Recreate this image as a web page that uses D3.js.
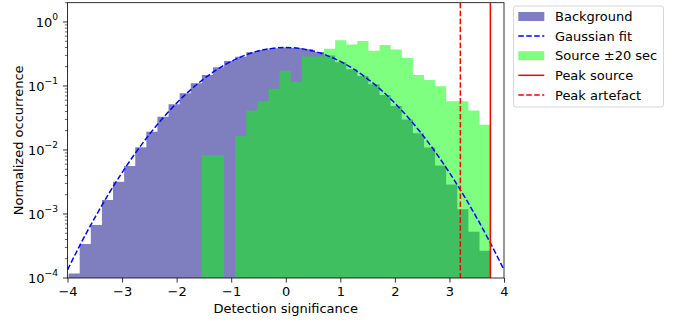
<!DOCTYPE html>
<html><head><meta charset="utf-8">
<script src="https://cdn.jsdelivr.net/npm/d3@7"></script>
<style>
body{margin:0;background:#fff}
svg{display:block}
text{font-family:"DejaVu Sans",sans-serif;fill:#000}
</style>
</head><body>
<svg id="chart" width="681" height="324"></svg>
<script>
// ---- data ----
const binLo = -3.98, binHi = 3.755, nBins = 38;
const background = [1.18e-4, 3.4e-4, 6.7e-4, 1.66e-3, 3.2e-3, 5.6e-3, 0.0110, 0.0193, 0.0331, 0.0518,
  0.0769, 0.110, 0.149, 0.196, 0.246, 0.287, 0.336, 0.365, 0.389, 0.398,
  0.392, 0.376, 0.340, 0.300, 0.234, 0.182, 0.143, 0.106, 0.072, 0.0487,
  0.030, 0.0182, 0.0109, 0.0057, 0.0029, 0.00119, 0.00053, 0.000267];
const source = [0, 0, 0, 0, 0, 0, 0, 0, 0, 0,
  0, 0, 0.00826, 0.00826, 0, 0.0165, 0.0413, 0.0578, 0.0909, 0.173,
  0.116, 0.289, 0.289, 0.380, 0.520, 0.446, 0.504, 0.355, 0.438, 0.372,
  0.273, 0.149, 0.124, 0.099, 0.0578, 0.0578, 0.0413, 0.0248];
const gaussX = [-4, -3.75, -3.5, -3.25, -3, -2.75, -2.5, -2.25, -2, -1.75, -1.5, -1.25, -1, -0.75, -0.5, -0.25, 0,
  0.25, 0.5, 0.75, 1, 1.25, 1.5, 1.75, 2, 2.25, 2.5, 2.75, 3, 3.25, 3.5, 3.75, 4];
const gaussY = [1.34e-4, 3.53e-4, 8.73e-4, 2.03e-3, 4.43e-3, 9.08e-3, 0.0175, 0.0317, 0.0540, 0.0863, 0.1295, 0.1826, 0.2420, 0.3011, 0.3521, 0.3867, 0.3989,
  0.3867, 0.3521, 0.3011, 0.2420, 0.1826, 0.1295, 0.0863, 0.0540, 0.0317, 0.0175, 0.00908, 0.00443, 0.00203, 8.73e-4, 3.53e-4, 1.34e-4];
const peakSource = 3.75;
const peakArtefact = 3.2;
const xTicks = [-4, -3, -2, -1, 0, 1, 2, 3, 4];
const yTickExps = [0, -1, -2, -3, -4];
const legendLabels = ["Background", "Gaussian fit", "Source \u00b120 sec", "Peak source", "Peak artefact"];

// ---- layout ----
const L = 67.5, R = 504, T = 2.7, B = 278;
const svg = d3.select("#chart");
const x = d3.scaleLinear().domain([-4, 4]).range([L, R]);
const y = d3.scaleLog().domain([1e-4, 2.0]).range([B, T]);

const edges = d3.range(nBins + 1).map(i => binLo + i * (binHi - binLo) / nBins);

svg.append("defs").append("clipPath").attr("id", "clip")
  .append("rect").attr("x", L).attr("y", T).attr("width", R - L).attr("height", B - T);
const plot = svg.append("g").attr("clip-path", "url(#clip)");

function stepPath(vals) {
  let p = `M${x(edges[0])},${B}`;
  vals.forEach((v, i) => {
    const yy = v > 0 ? y(v) : B;
    p += `L${x(edges[i])},${yy}L${x(edges[i + 1])},${yy}`;
  });
  p += `L${x(edges[nBins])},${B}Z`;
  return p;
}
plot.append("path").attr("d", stepPath(background)).attr("fill", "#000080").attr("fill-opacity", 0.5);
plot.append("path").attr("d", stepPath(source)).attr("fill", "#00ff00").attr("fill-opacity", 0.5);

const line = d3.line().x(d => x(d[0])).y(d => y(d[1])).curve(d3.curveMonotoneX);
plot.append("path").attr("d", line(gaussX.map((v, i) => [v, gaussY[i]])))
  .attr("fill", "none").attr("stroke", "#0000ff").attr("stroke-width", 1.5).attr("stroke-dasharray", "5.55,2.4");

plot.append("line").attr("x1", x(peakSource)).attr("x2", x(peakSource)).attr("y1", T).attr("y2", B)
  .attr("stroke", "#ff0000").attr("stroke-width", 1.5);
plot.append("line").attr("x1", x(peakArtefact)).attr("x2", x(peakArtefact)).attr("y1", T).attr("y2", B)
  .attr("stroke", "#ff0000").attr("stroke-width", 1.5).attr("stroke-dasharray", "5.55,2.4");

// ---- x axis ----
const xa = svg.append("g").attr("transform", `translate(0,${B})`)
  .call(d3.axisBottom(x).tickValues(xTicks).tickSize(4.6).tickPadding(4.2).tickFormat(d3.format("d")));
xa.select(".domain").remove();
xa.selectAll("line").attr("stroke", "#000").attr("stroke-width", 0.8);
xa.selectAll("text").attr("font-size", 13).attr("font-family", "DejaVu Sans");

svg.append("text").attr("x", (L + R) / 2).attr("y", 313).attr("text-anchor", "middle")
  .attr("font-size", 13).text("Detection significance");

// ---- y axis ----
const ya = svg.append("g");
yTickExps.forEach(k => {
  const v = Math.pow(10, k);
  const yy = y(v);
  ya.append("line").attr("x1", L - 4.6).attr("x2", L).attr("y1", yy).attr("y2", yy)
    .attr("stroke", "#000").attr("stroke-width", 0.8);
  const t = ya.append("text").attr("x", 58).attr("y", yy + 5).attr("text-anchor", "end").attr("font-size", 13);
  t.append("tspan").text("10");
  t.append("tspan").attr("dy", -7).attr("font-size", 9.1).text(k < 0 ? "\u2212" + Math.abs(k) : String(k));
  for (let m = 2; m <= 9; m++) {
    const mv = m * v;
    if (mv <= 2.0001) {
      const my = y(mv);
      ya.append("line").attr("x1", L - 2.6).attr("x2", L).attr("y1", my).attr("y2", my)
        .attr("stroke", "#000").attr("stroke-width", 0.6);
    }
  }
});
svg.append("text").attr("transform", `translate(22.5,${(T + B) / 2}) rotate(-90)`)
  .attr("text-anchor", "middle").attr("font-size", 13).text("Normalized occurrence");

// frame
svg.append("rect").attr("x", L).attr("y", T).attr("width", R - L).attr("height", B - T)
  .attr("fill", "none").attr("stroke", "#000").attr("stroke-width", 0.8);

// ---- legend ----
const lg = svg.append("g");
lg.append("rect").attr("x", 513.5).attr("y", 6).attr("width", 150).attr("height", 101).attr("rx", 2.5)
  .attr("fill", "#fff").attr("fill-opacity", 0.8).attr("stroke", "#cccccc").attr("stroke-width", 0.8);
const hx0 = 518.3, hx1 = 544.3;
legendLabels.forEach((lab, i) => {
  const cy = 16.5 + 19.6 * i;
  if (i === 0) lg.append("rect").attr("x", hx0).attr("y", cy - 4.5).attr("width", hx1 - hx0).attr("height", 9)
    .attr("fill", "#000080").attr("fill-opacity", 0.5);
  if (i === 2) lg.append("rect").attr("x", hx0).attr("y", cy - 4.5).attr("width", hx1 - hx0).attr("height", 9)
    .attr("fill", "#00ff00").attr("fill-opacity", 0.5);
  if (i === 1 || i === 3 || i === 4) {
    const ln = lg.append("line").attr("x1", hx0).attr("x2", hx1).attr("y1", cy).attr("y2", cy)
      .attr("stroke", i === 1 ? "#0000ff" : "#ff0000").attr("stroke-width", 1.5);
    if (i !== 3) ln.attr("stroke-dasharray", "5.55,2.4");
  }
  lg.append("text").attr("x", 555).attr("y", cy + 4.7).attr("font-size", 13).text(lab);
});
</script>
</body></html>
